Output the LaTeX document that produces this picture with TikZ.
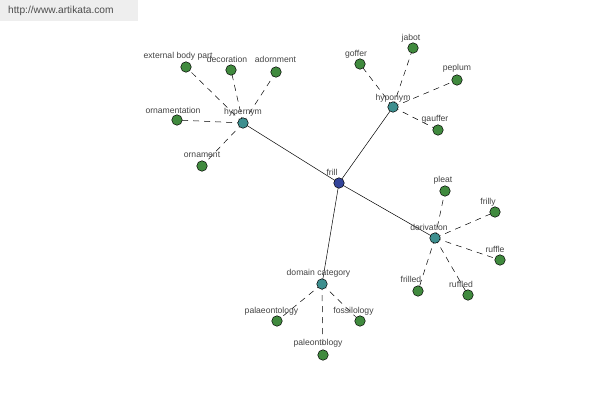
\documentclass[tikz,border=0pt]{standalone}
\usepackage{fontspec}
\setmainfont{Liberation Sans}
\begin{document}
\begin{tikzpicture}[x=1pt,y=-1pt,
  font=\fontsize{8.6}{9}\selectfont,
  dot/.style={circle,draw=black,line width=0.5pt,minimum size=10.5pt,inner sep=0pt},
  rootdot/.style={dot,fill=rootc},
  hubdot/.style={dot,fill=hubc},
  leafdot/.style={dot,fill=leafc},
  lbl/.style={text=txtc,inner sep=0pt,anchor=center},
  solidedge/.style={draw=black,line width=0.5pt},
  dashedge/.style={draw=black,line width=0.5pt,dash pattern=on 6pt off 5pt}]
\definecolor{rootc}{HTML}{33449A}
\definecolor{hubc}{HTML}{3D8F8F}
\definecolor{leafc}{HTML}{408A3E}
\definecolor{txtc}{HTML}{444444}
\definecolor{wmbg}{HTML}{EEEEEE}
\useasboundingbox[fill=white] (0,0) rectangle (600,400);
\fill[wmbg] (0,0) rectangle (138,21);
\node[lbl,text=black!70,anchor=west,font=\fontsize{10.2}{11}\selectfont] (wm) at (8,11) {http://www.artikata.com};
% coordinates
\coordinate (frill) at (339,183);
\coordinate (hyper) at (243,123);
\coordinate (hypo) at (393,107);
\coordinate (deriv) at (435,238);
\coordinate (domain) at (322,284);
\coordinate (ebp) at (186,67);
\coordinate (deco) at (231,70);
\coordinate (adorn) at (276,72);
\coordinate (ornt) at (177,120);
\coordinate (ornm) at (202,166);
\coordinate (goffer) at (360,64);
\coordinate (jabot) at (413,48);
\coordinate (peplum) at (457,80);
\coordinate (gauffer) at (438,130);
\coordinate (pleat) at (445,191);
\coordinate (frilly) at (495,212);
\coordinate (ruffle) at (500,260);
\coordinate (ruffled) at (468,295);
\coordinate (frilled) at (418,291);
\coordinate (palae) at (277,321);
\coordinate (fossil) at (360,321);
\coordinate (paleo) at (323,355);
% edges
\foreach \h in {hyper,hypo,deriv,domain} \draw[solidedge] (frill) -- (\h);
\foreach \l in {ebp,deco,adorn,ornt,ornm} \draw[dashedge] (hyper) -- (\l);
\foreach \l in {goffer,jabot,peplum,gauffer} \draw[dashedge] (hypo) -- (\l);
\foreach \l in {pleat,frilly,ruffle,ruffled,frilled} \draw[dashedge] (deriv) -- (\l);
\foreach \l in {palae,fossil,paleo} \draw[dashedge] (domain) -- (\l);
% dots
\node[rootdot] (nfrill) at (frill) {};
\foreach \h in {hyper,hypo,deriv,domain} \node[hubdot] (n\h) at (\h) {};
\foreach \l in {ebp,deco,adorn,ornt,ornm,goffer,jabot,peplum,gauffer,pleat,frilly,ruffle,ruffled,frilled,palae,fossil,paleo}
  \node[leafdot] (n\l) at (\l) {};
% labels
\node[lbl] (tfrill) at (332,172) {frill};
\node[lbl] (thyper) at (243,112) {hypernym};
\node[lbl] (thypo) at (393,98) {hyponym};
\node[lbl] (tderiv) at (429,227) {derivation};
\node[lbl] (tdomain) at (318.5,273) {domain category};
\node[lbl] (tebp) at (178,56) {external body part};
\node[lbl] (tdeco) at (227,59) {decoration};
\node[lbl] (tadorn) at (275.5,59) {adornment};
\node[lbl] (tornt) at (173,110) {ornamentation};
\node[lbl] (tornm) at (202,155) {ornament};
\node[lbl] (tgoffer) at (356,54) {goffer};
\node[lbl] (tjabot) at (411,38) {jabot};
\node[lbl] (tpeplum) at (457,68) {peplum};
\node[lbl] (tgauffer) at (435,119) {gauffer};
\node[lbl] (tpleat) at (443,180) {pleat};
\node[lbl] (tfrilly) at (488,202) {frilly};
\node[lbl] (truffle) at (495,249) {ruffle};
\node[lbl] (truffled) at (461,284) {ruffled};
\node[lbl] (tfrilled) at (411,279) {frilled};
\node[lbl] (tpalae) at (271.5,311) {palaeontology};
\node[lbl] (tfossil) at (353.5,311) {fossilology};
\node[lbl] (tpaleo) at (318,343) {paleontology};
\end{tikzpicture}
\end{document}
